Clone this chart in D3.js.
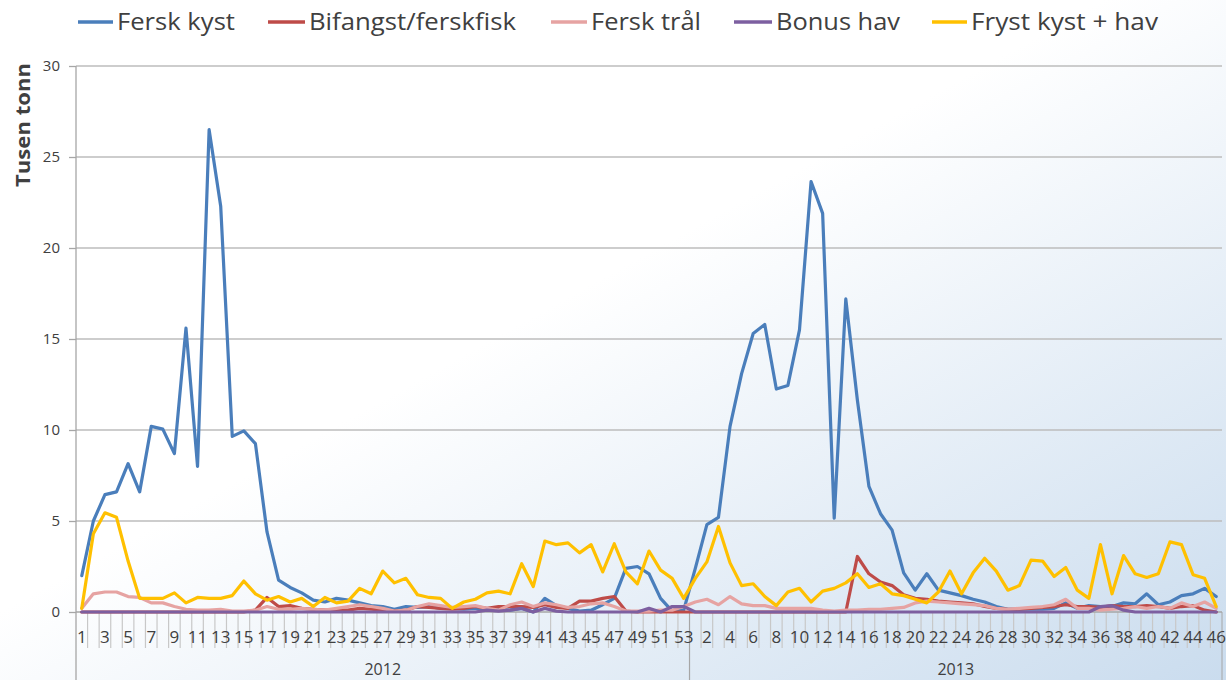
<!DOCTYPE html>
<html>
<head>
<meta charset="utf-8">
<script src="https://cdn.jsdelivr.net/npm/d3@7"></script>
<style>
  body { margin: 0; background: #fff; }
  svg { display: block; }
  text { font-family: 'Open Sans', 'DejaVu Sans', sans-serif; fill: #404040; }
</style>
</head>
<body>
<div class="svgContainer"></div>
<script>
const WIDTH = 1226;
const HEIGHT = 680;
const PLOT_LEFT = 76;
const PLOT_RIGHT = 1222;
const PLOT_TOP = 66;
const PLOT_BOTTOM = 612;

// category axis: two years of week numbers
const YEARS = ['2012', '2013'];
const WEEKS_2012 = d3.range(1, 54);
const WEEKS_2013 = d3.range(1, 47);
const Y_TICKS = [0, 5, 10, 15, 20, 25, 30];

// values in thousand tonnes, read week by week off the chart
const ferskKyst = [
  2.0, 5.0, 6.45, 6.6, 8.15, 6.6, 10.2, 10.05, 8.7, 15.6, 8.0, 26.5, 22.3, 9.65, 9.95, 9.25, 4.4, 1.75, 1.35, 1.05,
  0.65, 0.55, 0.75, 0.65, 0.5, 0.35, 0.3, 0.15, 0.3, 0.25, 0.3, 0.2, 0.2, 0.15, 0.2, 0.15, 0.15, 0.1, 0.2, 0.0,
  0.75, 0.35, 0.2, 0.05, 0.1, 0.4, 0.75, 2.4, 2.5, 2.1, 0.75, 0.05, 0.1,
  2.4, 4.8, 5.2, 10.2, 13.1, 15.3, 15.8, 12.25, 12.45, 15.5, 23.65, 21.9, 5.15, 17.2, 11.65, 6.9, 5.4, 4.5, 2.15, 1.2,
  2.1, 1.2, 1.05, 0.9, 0.7, 0.55, 0.3, 0.15, 0.15, 0.15, 0.15, 0.2, 0.5, 0.2, 0.35, 0.3, 0.3, 0.5, 0.45, 1.0,
  0.4, 0.55, 0.9, 1.0, 1.3, 0.85
];
const bifangst = [
  0, 0, 0, 0, 0, 0, 0, 0, 0, 0, 0, 0, 0, 0, 0, 0.1, 0.8, 0.3, 0.35, 0.2,
  0.15, 0.1, 0.1, 0.1, 0.2, 0.15, 0.1, 0.05, 0.1, 0.3, 0.25, 0.2, 0.15, 0.2, 0.3, 0.2, 0.3, 0.3, 0.3, 0.25,
  0.4, 0.25, 0.2, 0.6, 0.6, 0.75, 0.85, 0.05, 0, 0, 0, 0, 0,
  0, 0, 0, 0, 0, 0, 0, 0, 0, 0, 0, 0, 0, 0, 3.05, 2.1, 1.65, 1.45, 0.95, 0.75,
  0.7, 0.6, 0.55, 0.5, 0.45, 0.3, 0.2, 0.15, 0.15, 0.2, 0.25, 0.3, 0.4, 0.3, 0.3, 0.25, 0.35, 0.3, 0.3, 0.35,
  0.3, 0.2, 0.3, 0.35, 0.1, 0.0
];
const ferskTral = [
  0.2, 1.0, 1.1, 1.1, 0.85, 0.8, 0.5, 0.5, 0.3, 0.15, 0.1, 0.1, 0.15, 0.05, 0.05, 0.1, 0.3, 0.15, 0.15, 0.2,
  0.15, 0.1, 0.2, 0.3, 0.4, 0.3, 0.2, 0.05, 0.1, 0.3, 0.45, 0.35, 0.25, 0.3, 0.35, 0.2, 0.1, 0.4, 0.55, 0.3,
  0.5, 0.4, 0.25, 0.3, 0.45, 0.5, 0.3, 0.05, 0.05, 0.05, 0.1, 0.1, 0.3,
  0.55, 0.7, 0.4, 0.85, 0.45, 0.35, 0.35, 0.2, 0.2, 0.2, 0.2, 0.1, 0.05, 0.1, 0.1, 0.15, 0.15, 0.2, 0.25, 0.5,
  0.6, 0.55, 0.5, 0.45, 0.4, 0.35, 0.2, 0.15, 0.2, 0.25, 0.3, 0.4, 0.7, 0.2, 0.2, 0.1, 0.15, 0.2, 0.3, 0.2,
  0.3, 0.2, 0.5, 0.3, 0.55, 0.2
];
const bonusHav = [
  0, 0, 0, 0, 0, 0, 0, 0, 0, 0, 0, 0, 0, 0, 0, 0, 0, 0, 0, 0,
  0, 0, 0, 0, 0, 0, 0, 0, 0, 0, 0, 0, 0, 0, 0, 0.1, 0.05, 0.1, 0.2, 0,
  0.2, 0.05, 0, 0, 0, 0, 0, 0, 0, 0.2, 0, 0.3, 0.3,
  0, 0, 0, 0, 0, 0, 0, 0, 0, 0, 0, 0, 0, 0, 0, 0, 0, 0, 0, 0,
  0, 0, 0, 0, 0, 0, 0, 0, 0, 0, 0, 0, 0, 0, 0, 0.3, 0.35, 0.1, 0, 0,
  0, 0, 0, 0, 0, 0
];
const frystKystHav = [
  0.2, 4.3, 5.45, 5.2, 2.8, 0.75, 0.75, 0.75, 1.05, 0.5, 0.8, 0.75, 0.75, 0.9, 1.7, 1.0, 0.65, 0.85, 0.55, 0.75,
  0.3, 0.8, 0.5, 0.6, 1.3, 1.0, 2.25, 1.6, 1.85, 0.95, 0.8, 0.75, 0.2, 0.55, 0.7, 1.05, 1.15, 1.0, 2.65, 1.4,
  3.9, 3.7, 3.8, 3.25, 3.7, 2.2, 3.75, 2.2, 1.55, 3.35, 2.3, 1.85, 0.75,
  1.85, 2.75, 4.7, 2.7, 1.45, 1.55, 0.85, 0.35, 1.1, 1.3, 0.55, 1.15, 1.3, 1.6, 2.1, 1.35, 1.55, 1.0, 0.9, 0.7,
  0.5, 1.1, 2.25, 1.0, 2.15, 2.95, 2.25, 1.2, 1.45, 2.85, 2.8, 1.95, 2.45, 1.2, 0.75, 3.7, 1.0, 3.1, 2.1, 1.9,
  2.1, 3.85, 3.7, 2.05, 1.85, 0.3
];

const SERIES_NAMES = ['Fersk kyst', 'Bifangst/ferskfisk', 'Fersk trål', 'Bonus hav', 'Fryst kyst + hav'];
const SERIES_VALUES = [ferskKyst, bifangst, ferskTral, bonusHav, frystKystHav];
const SERIES_COLORS = ['#4a7ebb', '#be4b48', '#e6a3a2', '#7d5fa0', '#ffc000'];

// legend placement (sample line start, text start, text length)
const LEGEND_POS = [[78, 117, 118], [268, 309, 207], [551, 591, 110], [734, 776, 124], [932, 971, 187]];

// flatten the two-level category axis into one list of keys
const categories = [
  ...WEEKS_2012.map(w => ({ year: YEARS[0], week: w })),
  ...WEEKS_2013.map(w => ({ year: YEARS[1], week: w }))
].map((c, i) => ({ ...c, key: i }));

const svg = d3.select('.svgContainer')
  .append('svg')
  .attr('width', WIDTH)
  .attr('height', HEIGHT);

// soft blue wash towards the bottom right corner
const grad = svg.append('defs')
  .append('linearGradient')
  .attr('id', 'bg')
  .attr('x1', 0).attr('y1', 0)
  .attr('x2', 1).attr('y2', 1);
grad.append('stop').attr('offset', 0.45).attr('stop-color', '#ffffff');
grad.append('stop').attr('offset', 1).attr('stop-color', '#cadcee');
svg.append('rect')
  .attr('width', WIDTH)
  .attr('height', HEIGHT)
  .attr('fill', 'url(#bg)');

const xScale = d3.scaleBand()
  .domain(categories.map(c => c.key))
  .range([PLOT_LEFT, PLOT_RIGHT])
  .padding(0);
const xMid = k => xScale(k) + xScale.bandwidth() / 2;

const yScale = d3.scaleLinear()
  .domain([0, 30])
  .range([PLOT_BOTTOM, PLOT_TOP]);

// horizontal gridlines
svg.append('g')
  .selectAll('line')
  .data(Y_TICKS.filter(t => t > 0))
  .enter()
  .append('line')
  .attr('x1', PLOT_LEFT)
  .attr('x2', PLOT_RIGHT)
  .attr('y1', d => yScale(d))
  .attr('y2', d => yScale(d))
  .attr('stroke', '#bdbdbd')
  .attr('stroke-width', 1.3);

// y axis
const yAxis = d3.axisLeft(yScale)
  .tickValues(Y_TICKS)
  .tickSize(7)
  .tickPadding(9);
const yAxisG = svg.append('g')
  .attr('transform', `translate(${PLOT_LEFT}, 0)`)
  .call(yAxis);
yAxisG.select('.domain').remove();
yAxisG.selectAll('.tick line').attr('stroke', '#a6a6a6').attr('stroke-width', 1.3);
yAxisG.selectAll('.tick text')
  .attr('font-size', 15)
  .attr('font-family', "'Open Sans', sans-serif")
  .attr('fill', '#404040');

// vertical axis line runs down through the category rows
svg.append('line')
  .attr('x1', PLOT_LEFT).attr('x2', PLOT_LEFT)
  .attr('y1', PLOT_TOP).attr('y2', HEIGHT)
  .attr('stroke', '#a6a6a6')
  .attr('stroke-width', 1.3);

svg.append('text')
  .attr('transform', `translate(30, 125) rotate(-90)`)
  .attr('text-anchor', 'middle')
  .attr('font-size', 20)
  .attr('font-weight', 'bold')
  .attr('fill', '#000')
  .attr('textLength', 124)
  .attr('lengthAdjust', 'spacingAndGlyphs')
  .text('Tusen tonn');

// category tick lines between every week
const tickKeys = categories.map(c => c.key);
svg.append('g')
  .selectAll('line')
  .data(tickKeys.slice(1))
  .enter()
  .append('line')
  .attr('x1', d => xScale(d))
  .attr('x2', d => xScale(d))
  .attr('y1', PLOT_BOTTOM)
  .attr('y2', d => categories[d].week === 1 ? HEIGHT : 648)
  .attr('stroke', d => categories[d].week === 1 ? '#a6a6a6' : '#c8c8c8')
  .attr('stroke-width', 1.2);

svg.append('line')
  .attr('x1', PLOT_RIGHT).attr('x2', PLOT_RIGHT)
  .attr('y1', PLOT_BOTTOM).attr('y2', HEIGHT)
  .attr('stroke', '#a6a6a6');

// week labels on every other category
svg.append('g')
  .selectAll('text')
  .data(categories.filter(c => c.key % 2 === 0))
  .enter()
  .append('text')
  .attr('x', d => xMid(d.key))
  .attr('y', 643)
  .attr('text-anchor', 'middle')
  .attr('font-size', 17)
  .text(d => d.week);

// year labels centred under their weeks
svg.append('g')
  .selectAll('text')
  .data(YEARS)
  .enter()
  .append('text')
  .attr('x', y => {
    const ks = categories.filter(c => c.year === y).map(c => c.key);
    return (xScale(ks[0]) + xScale(ks[ks.length - 1]) + xScale.bandwidth()) / 2;
  })
  .attr('y', 675)
  .attr('text-anchor', 'middle')
  .attr('font-size', 16)
  .text(y => y);

// x axis line
svg.append('line')
  .attr('x1', PLOT_LEFT).attr('x2', PLOT_RIGHT)
  .attr('y1', PLOT_BOTTOM).attr('y2', PLOT_BOTTOM)
  .attr('stroke', '#a6a6a6')
  .attr('stroke-width', 1.3);

// series lines
const line = d3.line()
  .x((d, i) => xMid(categories[i].key))
  .y(d => yScale(d));

svg.append('g')
  .selectAll('path')
  .data(SERIES_VALUES)
  .enter()
  .append('path')
  .attr('d', d => line(d))
  .attr('fill', 'none')
  .attr('stroke', (d, i) => SERIES_COLORS[i])
  .attr('stroke-width', 3.2)
  .attr('stroke-linejoin', 'round')
  .attr('stroke-linecap', 'round');

// legend
const legend = svg.append('g')
  .selectAll('g')
  .data(SERIES_NAMES)
  .enter()
  .append('g');
legend.append('line')
  .attr('x1', (d, i) => LEGEND_POS[i][0])
  .attr('x2', (d, i) => LEGEND_POS[i][1] - 4)
  .attr('y1', 22)
  .attr('y2', 22)
  .attr('stroke', (d, i) => SERIES_COLORS[i])
  .attr('stroke-width', 3.5);
legend.append('text')
  .attr('x', (d, i) => LEGEND_POS[i][1])
  .attr('y', 30)
  .attr('font-size', 23)
  .attr('fill', '#1a1a1a')
  .attr('textLength', (d, i) => LEGEND_POS[i][2])
  .attr('lengthAdjust', 'spacingAndGlyphs')
  .text(d => d);
</script>
</body>
</html>
